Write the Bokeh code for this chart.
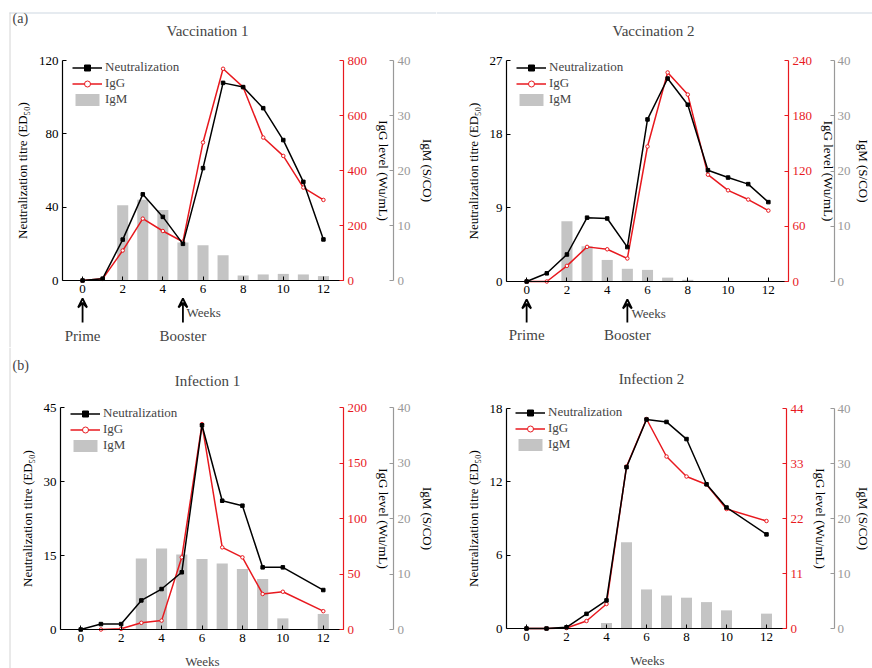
from bokeh.plotting import figure
from bokeh.models import (Range1d, LinearAxis, FixedTicker, Legend, LegendItem,
                          Arrow, VeeHead, Label)
from bokeh.layouts import row, column
from bokeh.embed import file_html
from bokeh.resources import INLINE

FONT = "Liberation Serif"
RED = "#e8191f"
GREY_BAR = "#c4c4c4"
GREY_AX = "#999999"
EDGE_TOP = "#e6ebf0"
EDGE_LEFT = "#d4d4d4"

# ---------------- data ----------------
# Vaccination 1
v1_weeks = [0, 1, 2, 3, 4, 5, 6, 7, 8, 9, 10, 11, 12]
v1_neut = [0, 1, 22.3, 47, 34.7, 20, 61.3, 107.8, 105.5, 94, 76.6, 53.8, 22.4]
v1_igg = [0, 6, 109, 225, 180, 141, 502, 770, 703, 520, 453, 338, 293]
v1_igm_weeks = [2, 3, 4, 5, 6, 7, 8, 9, 10, 11, 12]
v1_igm = [13.7, 14.7, 12.8, 6.9, 6.4, 4.6, 0.9, 1.1, 1.2, 1.1, 0.8]

# Vaccination 2
v2_weeks = [0, 1, 2, 3, 4, 5, 6, 7, 8, 9, 10, 11, 12]
v2_neut = [0, 1.0, 3.3, 7.8, 7.7, 4.2, 19.8, 24.8, 21.6, 13.6, 12.7, 11.9, 9.7]
v2_igg = [0, 0, 17, 37.6, 35, 25, 146.6, 227, 203, 116, 99, 89, 77]
v2_igm_weeks = [2, 3, 4, 5, 6, 7, 8]
v2_igm = [10.9, 6.4, 3.9, 2.3, 2.1, 0.7, 0.3]

# Infection 1
i1_weeks = [0, 1, 2, 3, 4, 5, 6, 7, 8, 9, 10, 12]
i1_neut = [0, 1.1, 1.1, 5.9, 8.2, 11.6, 41.4, 26.1, 25.1, 12.6, 12.6, 8.0]
i1_igg_weeks = [1, 2, 3, 4, 5, 6, 7, 8, 9, 10, 12]
i1_igg = [0, 0.6, 6, 8, 65, 185, 74, 65, 32, 34, 16.5]
i1_igm_weeks = [3, 4, 5, 6, 7, 8, 9, 10, 12]
i1_igm = [12.8, 14.6, 13.5, 12.7, 11.9, 10.9, 9.1, 2.0, 2.8]

# Infection 2
i2_weeks = [0, 1, 2, 3, 4, 5, 6, 7, 8, 9, 10, 12]
i2_neut = [0, 0, 0.1, 1.2, 2.3, 13.2, 17.1, 16.9, 15.5, 11.8, 9.9, 7.7]
i2_igg = [0, 0, 0.1, 1.5, 4.9, 32.4, 41.9, 34.4, 30.4, 28.8, 23.9, 21.5]
i2_igm_weeks = [4, 5, 6, 7, 8, 9, 10, 12]
i2_igm = [1.0, 15.7, 7.1, 6.0, 5.6, 4.8, 3.3, 2.7]

x_ticks = [0, 2, 4, 6, 8, 10, 12]
igm_ticks = [0, 10, 20, 30, 40]
v1_left_ticks = [0, 40, 80, 120]
v1_red_ticks = [0, 200, 400, 600, 800]
v2_left_ticks = [0, 9, 18, 27]
v2_red_ticks = [0, 60, 120, 180, 240]
i1_left_ticks = [0, 15, 30, 45]
i1_red_ticks = [0, 50, 100, 150, 200]
i2_left_ticks = [0, 6, 12, 18]
i2_red_ticks = [0, 11, 22, 33, 44]


def style_axis(ax, color):
    ax.axis_line_color = color
    ax.axis_line_width = 1.2
    ax.major_tick_line_color = color
    ax.major_tick_in = 4
    ax.major_tick_out = 0
    ax.minor_tick_line_color = None
    ax.major_label_text_color = color
    ax.major_label_text_font = FONT
    ax.major_label_text_font_size = "13px"
    ax.axis_label_text_font = FONT
    ax.axis_label_text_font_size = "13px"
    ax.axis_label_text_font_style = "normal"
    ax.axis_label_text_color = "black"


def make_panel(W, H, geo, grey_gap, texts, weeks, neut, igg_weeks, igg,
               igm_weeks, igm, left_ticks, red_ticks, vaccination, legend_xy,
               tight=False, edges=()):
    # geo: pixel geometry of the plotting box inside this figure
    # (x of week -1, x of week 13, y of value 0, y of top tick)
    xl, xr, y0, ytop = geo
    left_end = left_ticks[-1]
    red_end = red_ticks[-1]
    igm_end = igm_ticks[-1]
    ppx = (xr - xl) / 14.0
    ppy = (y0 - ytop) / float(left_end)
    x_start = -1 - xl / ppx
    x_end = x_start + W / ppx
    y_start = -(H - y0) / ppy
    y_end = left_end + ytop / ppy

    def xd(px):
        return x_start + px / ppx

    def yd(py):
        return y_end - py / ppy

    p = figure(width=W, height=H, x_range=Range1d(x_start, x_end),
               y_range=Range1d(y_start, y_end),
               output_backend="svg", toolbar_location=None,
               min_border_left=0, min_border_right=0,
               min_border_top=0, min_border_bottom=0)
    p.outline_line_color = None
    p.xgrid.visible = False
    p.ygrid.visible = False
    p.extra_y_ranges = {
        "igg": Range1d(y_start * red_end / left_end, y_end * red_end / left_end),
        "igm": Range1d(y_start * igm_end / left_end, y_end * igm_end / left_end)}

    # faint page edges of the original figure
    for (ex0, ey0, ex1, ey1, ec, ew) in edges:
        p.segment(x0=[xd(ex0)], y0=[yd(ey0)], x1=[xd(ex1)], y1=[yd(ey1)],
                  line_color=ec, line_width=ew)

    # left & bottom axes, fixed inside the frame
    ya = p.yaxis[0]
    style_axis(ya, "black")
    ya.fixed_location = -1
    ya.bounds = (0, left_end)
    ya.ticker = FixedTicker(ticks=left_ticks)
    ya.axis_label = "Neutralization titre (ED\u2085\u2080)"
    ya.major_label_standoff = 4
    ya.axis_label_standoff = 6
    xa = p.xaxis[0]
    style_axis(xa, "black")
    xa.fixed_location = 0
    xa.bounds = (-1, 13)
    xa.ticker = FixedTicker(ticks=x_ticks)
    xa.major_label_standoff = 4

    # right axes, also fixed
    ax_r = LinearAxis(y_range_name="igg", ticker=FixedTicker(ticks=red_ticks),
                      axis_label="IgG level (Wu/mL)", bounds=(0, red_end),
                      fixed_location=13)
    style_axis(ax_r, RED)
    ax_g = LinearAxis(y_range_name="igm", ticker=FixedTicker(ticks=igm_ticks),
                      axis_label="IgM (S/CO)", bounds=(0, igm_end),
                      fixed_location=13 + grey_gap / ppx)
    style_axis(ax_g, GREY_AX)
    ax_r.major_label_standoff = 4
    ax_r.axis_label_standoff = 6
    if tight:
        ax_g.major_label_standoff = 3
        ax_g.axis_label_standoff = 2
    else:
        ax_g.major_label_standoff = 4
        ax_g.axis_label_standoff = 6
    p.add_layout(ax_r, "right")
    p.add_layout(ax_g, "right")

    # glyphs
    bars = p.vbar(x=igm_weeks, top=igm, width=0.55, bottom=0, y_range_name="igm",
                  fill_color=GREY_BAR, line_color=None)
    l2 = p.line(igg_weeks, igg, y_range_name="igg", line_color=RED, line_width=1.5)
    s2 = p.scatter(igg_weeks, igg, y_range_name="igg", marker="circle", size=3.5,
                   line_color=RED, fill_color="white", line_width=1)
    l1 = p.line(weeks, neut, line_color="black", line_width=1.5)
    s1 = p.scatter(weeks, neut, marker="square", size=3.5, color="black")

    lx, ltop = legend_xy
    legend = Legend(items=[LegendItem(label="Neutralization", renderers=[l1, s1]),
                           LegendItem(label="IgG", renderers=[l2, s2]),
                           LegendItem(label="IgM", renderers=[bars])],
                    location=(lx, H - ltop - 48), padding=0, margin=0, spacing=0,
                    label_height=16, glyph_height=15, glyph_width=30,
                    label_standoff=3, border_line_color=None,
                    background_fill_alpha=0,
                    label_text_font=FONT, label_text_font_size="13px")
    p.add_layout(legend)

    # texts: (text, x px, y px, align, size)
    for txt, tx, ty, al, sz in texts:
        p.add_layout(Label(x=xd(tx), y=yd(ty), text=txt, text_align=al,
                           text_baseline="middle", text_font=FONT,
                           text_font_size=sz))

    if vaccination:
        tip, tail, lab_y, weeks_x, weeks_y = vaccination
        for xw, txt in [(0, "Prime"), (5, "Booster")]:
            p.add_layout(Arrow(end=VeeHead(size=9, line_color="black", line_width=1.8,
                                           fill_color=None),
                               x_start=xw, y_start=yd(tail), x_end=xw, y_end=yd(tip),
                               line_color="black", line_width=1.8))
            p.add_layout(Label(x=xw, y=yd(lab_y), text=txt, text_align="center",
                               text_baseline="middle", text_font=FONT,
                               text_font_size="15px"))
        p.add_layout(Label(x=xd(weeks_x), y=yd(weeks_y), text="Weeks",
                           text_align="left", text_baseline="middle",
                           text_font=FONT, text_font_size="13px"))
    return p


p1 = make_panel(436, 347, (62, 343, 280, 60), 50,
                [("(a)", 12, 18, "left", "14px"),
                 ("Vaccination 1", 207, 30, "center", "15px")],
                v1_weeks, v1_neut, v1_weeks, v1_igg, v1_igm_weeks, v1_igm,
                v1_left_ticks, v1_red_ticks, (298, 322, 335, 186, 312),
                (72, 59),
                edges=[(9, 12.5, 436, 12.5, EDGE_TOP, 2),
                       (9.5, 12, 9.5, 347, EDGE_LEFT, 1)])
p2 = make_panel(436, 347, (70, 352, 281, 60), 46,
                [("Vaccination 2", 217, 30, "center", "15px")],
                v2_weeks, v2_neut, v2_weeks, v2_igg, v2_igm_weeks, v2_igm,
                v2_left_ticks, v2_red_ticks, (299, 322, 334, 195, 313),
                (80, 59), tight=True,
                edges=[(0, 12.5, 436, 12.5, EDGE_TOP, 2)])
p3 = make_panel(436, 321, (60, 343, 282, 60), 50,
                [("(b)", 12, 18, "left", "14px"),
                 ("Infection 1", 207, 33, "center", "15px"),
                 ("Weeks", 202, 314, "center", "13px")],
                i1_weeks, i1_neut, i1_igg_weeks, i1_igg, i1_igm_weeks, i1_igm,
                i1_left_ticks, i1_red_ticks, None, (70, 58),
                edges=[(9.5, 0, 9.5, 321, EDGE_LEFT, 1)])
p4 = make_panel(436, 321, (70, 350, 281, 61), 48,
                [("Infection 2", 215, 31, "center", "15px"),
                 ("Weeks", 211, 313, "center", "13px")],
                i2_weeks, i2_neut, i2_weeks, i2_igg, i2_igm_weeks, i2_igm,
                i2_left_ticks, i2_red_ticks, None, (79, 57), tight=True)

layout = column(row(p1, p2), row(p3, p4))
open("out.html", "w").write(file_html(layout, INLINE))
